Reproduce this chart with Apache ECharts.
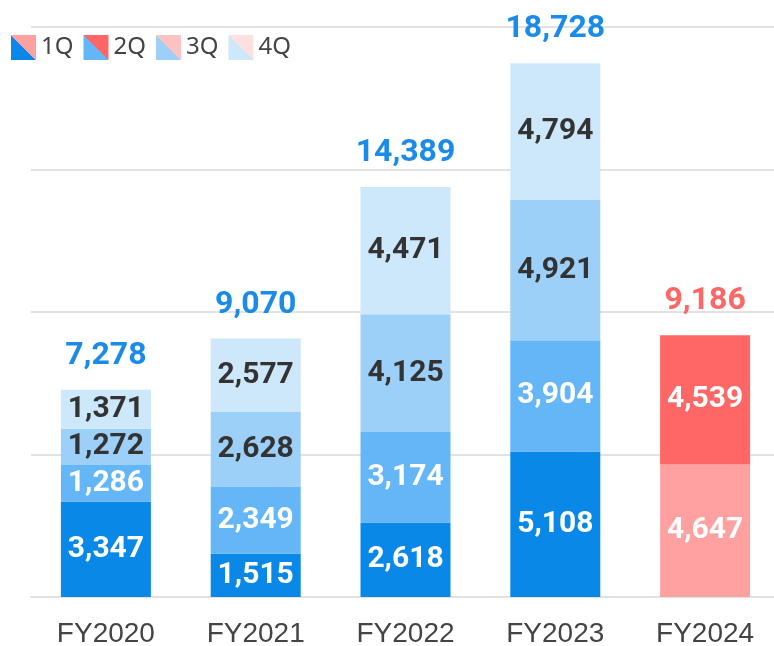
<!DOCTYPE html>
<html>
<head>
<meta charset="utf-8">
<script src="https://cdn.jsdelivr.net/npm/echarts@6/dist/echarts.min.js"></script>
<style>
  html, body { margin: 0; padding: 0; background: #fff; }
  #chart { width: 774px; height: 646px; }
</style>
</head>
<body>
<div id="chart"></div>
<script>
// 年度
const categories = ["FY2020", "FY2021", "FY2022", "FY2023", "FY2024"];
// 四半期ごとの値
const q1 = [3347, 1515, 2618, 5108, 4647];
const q2 = [1286, 2349, 3174, 3904, 4539];
const q3 = [1272, 2628, 4125, 4921, null];
const q4 = [1371, 2577, 4471, 4794, null];
// 合計ラベル
const totals = [7278, 9070, 14389, 18728, 9186];
const quarterNames = ["1Q", "2Q", "3Q", "4Q"];

// 色: 過年度は青系、今年度は赤系
const blues = ["#0a88e8", "#64b6f7", "#9dd0f8", "#cde7fb"];
const reds = ["#ffa1a1", "#ff6666", "#ffc2c2", "#ffe0e0"];
const labelColors = ["#fff", "#fff", "#333", "#333"];
const labelFont = "Roboto, sans-serif";

// 凡例アイコン: 斜めに青/赤を分割
function splitIcon(i) {
  return {
    type: "linear",
    x: 0, y: 1, x2: 1, y2: 0,
    colorStops: [
      { offset: 0, color: blues[i] },
      { offset: 0.5, color: blues[i] },
      { offset: 0.5, color: reds[i] },
      { offset: 1, color: reds[i] }
    ]
  };
}

const quarterData = [q1, q2, q3, q4];
const series = quarterData.map((arr, i) => ({
  name: quarterNames[i],
  type: "bar",
  stack: "total",
  barWidth: 90,
  itemStyle: { color: blues[i] },
  label: {
    show: true,
    position: "inside",
    color: labelColors[i],
    fontFamily: labelFont,
    fontWeight: "bold",
    fontSize: 30,
    formatter: p => (p.value == null ? "" : p.value.toLocaleString("en-US"))
  },
  data: arr.map((v, j) => {
    if (j === categories.length - 1) {
      return { value: v, itemStyle: { color: reds[i] }, label: { color: "#fff" } };
    }
    return v;
  })
}));

// 合計値ラベル用（高さ0のバー）
series.push({
  name: "total",
  type: "bar",
  stack: "total",
  barWidth: 90,
  itemStyle: { color: "transparent" },
  label: {
    show: true,
    position: "top",
    distance: 18,
    fontFamily: labelFont,
    fontWeight: "bold",
    fontSize: 32,
    formatter: p => totals[p.dataIndex].toLocaleString("en-US")
  },
  data: totals.map((t, j) => ({
    value: 0,
    label: { color: j === categories.length - 1 ? "#ff6666" : "#1a8be8" }
  }))
});

const myChart = echarts.init(document.getElementById("chart"));
const option = {
  animation: false,
  legend: {
    left: 6,
    top: 30,
    itemWidth: 25,
    itemHeight: 25,
    itemGap: 10,
    icon: "rect",
    textStyle: { color: "#444", fontSize: 24, fontFamily: "'Noto Sans', sans-serif" },
    data: quarterNames.map((n, i) => ({ name: n, itemStyle: { color: splitIcon(i) } }))
  },
  grid: {
    left: 31,
    right: -6,
    top: 27,
    bottom: 49,
    outerBoundsMode: "none"
  },
  xAxis: {
    type: "category",
    data: categories,
    axisLine: { show: true, lineStyle: { color: "#e2e2e2", width: 2 } },
    axisTick: { show: false },
    axisLabel: {
      color: "#444",
      fontSize: 28,
      fontFamily: "'Liberation Sans', sans-serif",
      margin: 23
    }
  },
  yAxis: {
    type: "value",
    min: 0,
    max: 20000,
    interval: 5000,
    axisLabel: { show: false },
    axisLine: { show: false },
    axisTick: { show: false },
    splitLine: { lineStyle: { color: "#e2e2e2", width: 2 } }
  },
  series: series
};
option && myChart.setOption(option);
</script>
</body>
</html>
